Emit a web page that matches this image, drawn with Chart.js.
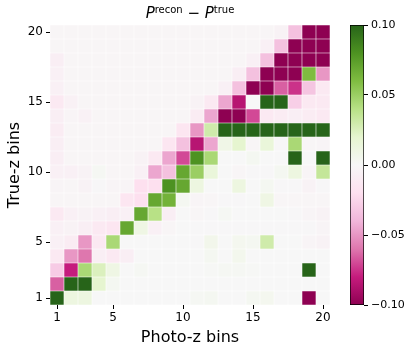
<!DOCTYPE html>
<html>
<head>
<meta charset="utf-8">
<script src="https://cdn.jsdelivr.net/npm/chart.js@4"></script>
<style>
  html, body { margin: 0; padding: 0; background: #fff; }
  #wrap { position: relative; width: 409px; height: 351px; }
  #wrap canvas { position: absolute; left: 0; top: 0; }
  #title { position: absolute; left: 50px; width: 280px; top: 4px; text-align: center;
           font-family: 'DejaVu Sans'; font-size: 15px; color: #000; line-height: 18px; }
  #title sup { font-size: 10px; vertical-align: 5px; line-height: 0; }
</style>
</head>
<body>
<div id="wrap">
  <canvas id="heat" width="409" height="351"></canvas>
  <canvas id="cbar" width="409" height="351"></canvas>
  <div id="title"><i>P</i><sup>recon</sup> − <i>P</i><sup>true</sup></div>
</div>
<script>
const photoBins = [1, 2, 3, 4, 5, 6, 7, 8, 9, 10, 11, 12, 13, 14, 15, 16, 17, 18, 19, 20];
const trueBins = [1, 2, 3, 4, 5, 6, 7, 8, 9, 10, 11, 12, 13, 14, 15, 16, 17, 18, 19, 20];
const xTicks = [1, 5, 10, 15, 20];
const yTicks = [1, 5, 10, 15, 20];
const cbarTicks = [-0.1, -0.05, 0, 0.05, 0.1];

// P_recon - P_true, one row per true-z bin, top row (bin 20) first
const deltaP = [
  [-0.002,-0.002,-0.002,-0.002,-0.002,-0.002,-0.002,-0.002,-0.002,-0.002,-0.002,-0.002,-0.002,-0.002,-0.002,-0.002,-0.004,-0.035,-0.1,-0.1],
  [-0.002,-0.002,-0.002,-0.002,-0.002,-0.002,-0.002,-0.002,-0.002,-0.002,-0.002,-0.002,-0.002,-0.002,-0.002,-0.006,-0.035,-0.1,-0.1,-0.1],
  [-0.008,-0.002,-0.002,-0.002,-0.002,-0.002,-0.002,-0.002,-0.002,-0.002,-0.002,-0.002,-0.002,-0.002,-0.006,-0.035,-0.1,-0.1,-0.1,-0.1],
  [-0.006,-0.002,-0.002,-0.002,-0.002,-0.002,-0.002,-0.002,-0.002,-0.002,-0.002,-0.002,-0.002,-0.008,-0.035,-0.1,-0.1,-0.1,0.06,-0.05],
  [-0.006,-0.002,-0.002,-0.002,-0.002,-0.002,-0.002,-0.002,-0.002,-0.002,-0.002,-0.002,-0.006,-0.035,-0.1,-0.1,-0.065,-0.075,-0.033,-0.012],
  [-0.012,-0.005,-0.002,-0.002,-0.002,-0.002,-0.002,-0.002,-0.002,-0.002,-0.004,-0.012,-0.045,-0.085,0,0.1,0.1,-0.028,-0.012,-0.012],
  [-0.008,-0.003,-0.005,-0.002,-0.002,-0.002,-0.002,-0.002,-0.002,-0.002,-0.01,-0.045,-0.1,-0.1,-0.07,-0.012,-0.01,-0.008,-0.01,-0.012],
  [-0.01,-0.002,-0.002,-0.002,-0.002,-0.002,-0.002,-0.002,-0.002,-0.015,-0.05,0.03,0.1,0.1,0.1,0.1,0.1,0.1,0.1,0.1],
  [-0.008,-0.002,-0.002,-0.002,-0.002,-0.002,-0.002,-0.002,-0.015,-0.035,-0.085,-0.045,0.008,0.02,-0.002,0.015,-0.001,0.045,-0.002,-0.003],
  [-0.008,-0.002,-0.002,-0.002,-0.002,-0.002,-0.004,-0.012,-0.045,-0.07,0.08,0.045,0,0,0.003,0,0,0.1,0,0.1],
  [-0.006,-0.006,-0.004,0.002,-0.002,-0.002,-0.006,-0.045,-0.035,0.07,0.05,0.015,0,-0.002,-0.001,-0.001,0.003,0.012,-0.003,0.035],
  [-0.003,-0.002,-0.004,-0.001,-0.003,-0.003,-0.02,-0.02,0.08,0.07,0.012,0,0,0.012,0,0.003,-0.001,-0.001,-0.004,-0.001],
  [-0.002,-0.002,-0.002,-0.002,-0.002,-0.015,-0.02,0.07,0.065,0.003,-0.003,-0.002,-0.001,-0.001,0,0.01,-0.002,-0.002,-0.002,-0.002],
  [-0.012,-0.006,-0.004,-0.006,-0.008,-0.006,0.07,0.04,-0.008,0,-0.002,-0.001,0.002,0,0,0,0,-0.001,-0.003,-0.004],
  [-0.006,-0.004,-0.008,-0.012,-0.015,0.07,0.01,-0.006,-0.002,0,-0.001,-0.001,-0.001,-0.001,-0.001,-0.001,-0.001,-0.001,-0.001,-0.003],
  [-0.006,-0.01,-0.05,-0.012,0.045,0,0,0,0,0,-0.001,0.006,0,0.004,0.003,0.03,0,0,-0.003,-0.004],
  [-0.012,-0.05,-0.06,-0.008,-0.012,-0.008,0,0,0,0,0,0.003,0,0.005,0,0,0,0,0,0],
  [-0.03,-0.08,0.045,0.025,0.01,0,0.002,0,0,0,0,0.001,0.002,0.002,0.001,0,0,0,0.1,0],
  [-0.065,0.1,0.1,0.02,0.003,0,0,0,0,0,0,0,0,0,0,0,0,0,0,0],
  [0.1,0.012,0.012,0,0,0,0,0,0,0,0.002,0.003,0,0,0.003,0.004,0,0,-0.1,0]
];

const vmin = -0.1, vmax = 0.1;
const piyg = ['#8e0152', '#c51b7d', '#de77ae', '#f1b6da', '#fde0ef', '#f7f7f7',
              '#e6f5d0', '#b8e186', '#7fbc41', '#4d9221', '#276419'];
const stops = piyg.map(h => [1, 3, 5].map(i => parseInt(h.slice(i, i + 2), 16)));

function colorFor(v) {
  const t = (Math.max(vmin, Math.min(vmax, v)) - vmin) / (vmax - vmin);
  const p = t * 10;
  const i = Math.min(9, Math.floor(p));
  const f = p - i;
  const a = stops[i], b = stops[i + 1];
  return 'rgb(' + a.map((c, k) => Math.round(c + (b[k] - c) * f)).join(',') + ')';
}

const font = 'DejaVu Sans';

const datasets = trueBins.map(tb => {
  const vals = deltaP[trueBins.length - tb];
  return {
    data: photoBins.map(pb => ({ x: pb, y: [tb - 0.5, tb + 0.5] })),
    backgroundColor: vals.map(colorFor),
    borderColor: 'rgba(255,255,255,0.55)',
    borderWidth: 0.6,
    borderSkipped: false,
    grouped: false,
    barPercentage: 1,
    categoryPercentage: 1
  };
});

new Chart(document.getElementById('heat'), {
  type: 'bar',
  data: { datasets },
  options: {
    responsive: false,
    animation: false,
    layout: { padding: { top: 25, right: 79, left: 0, bottom: 0 } },
    plugins: { legend: { display: false }, tooltip: { enabled: false } },
    scales: {
      x: {
        type: 'linear', min: 0.5, max: 20.5, offset: false,
        afterBuildTicks: s => { s.ticks = xTicks.map(v => ({ value: v })); },
        afterFit: s => { s.height = 46; },
        grid: { drawOnChartArea: false, tickLength: 4, tickColor: '#000', offset: false },
        border: { display: false },
        ticks: { color: '#000', font: { family: font, size: 12 }, padding: 2, maxRotation: 0 },
        title: { display: true, text: 'Photo-z bins', color: '#000',
                 font: { family: font, size: 16 }, padding: { top: 0, bottom: 4 } }
      },
      y: {
        type: 'linear', min: 0.5, max: 20.5, offset: false,
        afterBuildTicks: s => { s.ticks = yTicks.map(v => ({ value: v })); },
        afterFit: s => { s.width = 50; },
        grid: { drawOnChartArea: false, tickLength: 4, tickColor: '#000' },
        border: { display: false },
        ticks: { color: '#000', font: { family: font, size: 12 }, padding: 3 },
        title: { display: true, text: 'True-z bins', color: '#000',
                 font: { family: font, size: 16 }, padding: { top: 5, bottom: 0 } }
      }
    }
  }
});

function cbarGradient(ctx) {
  const area = ctx.chart.chartArea;
  if (!area) return '#f7f7f7';
  const g = ctx.chart.ctx.createLinearGradient(0, area.bottom, 0, area.top);
  piyg.forEach((c, i) => g.addColorStop(i / 10, c));
  return g;
}

new Chart(document.getElementById('cbar'), {
  type: 'bar',
  data: {
    labels: ['delta'],
    datasets: [{
      data: [[vmin, vmax]],
      backgroundColor: cbarGradient,
      borderColor: '#000',
      borderWidth: 1,
      borderSkipped: false,
      barPercentage: 1,
      categoryPercentage: 1
    }]
  },
  options: {
    responsive: false,
    animation: false,
    layout: { padding: { left: 350, top: 25, bottom: 46, right: 0 } },
    plugins: { legend: { display: false }, tooltip: { enabled: false } },
    scales: {
      x: { display: false },
      y: {
        position: 'right', min: vmin, max: vmax,
        afterBuildTicks: s => { s.ticks = cbarTicks.map(v => ({ value: v })); },
        afterFit: s => { s.width = 45; },
        grid: { drawOnChartArea: false, tickLength: 4, tickColor: '#000' },
        border: { display: false },
        ticks: { color: '#000', font: { family: font, size: 11 }, padding: 3,
                 callback: v => v.toFixed(2).replace('-', '\u2212') }
      }
    }
  }
});
</script>
</body>
</html>
